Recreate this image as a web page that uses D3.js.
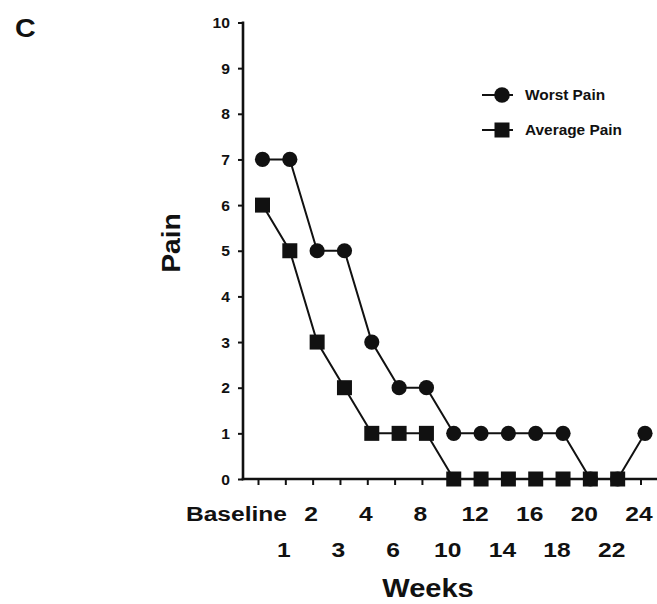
<!DOCTYPE html>
<html>
<head>
<meta charset="utf-8">
<script src="https://cdn.jsdelivr.net/npm/d3@7"></script>
<style>
  html, body { margin: 0; padding: 0; background: #fff; }
  text { font-family: "Liberation Sans", Arial, Helvetica, sans-serif; font-weight: bold; fill: #111; }
</style>
</head>
<body>
<svg id="chart" width="657" height="604"></svg>
<script>
// ---- data ----
const weeks = ["Baseline", "1", "2", "3", "4", "6", "8", "10", "12", "14", "16", "18", "20", "22", "24"];
const worstPain = [7, 7, 5, 5, 3, 2, 2, 1, 1, 1, 1, 1, 0, 0, 1];
const averagePain = [6, 5, 3, 2, 1, 1, 1, 0, 0, 0, 0, 0, 0, 0, null];
const yTicks = [0, 1, 2, 3, 4, 5, 6, 7, 8, 9, 10];
const seriesNames = ["Worst Pain", "Average Pain"];

const svg = d3.select("#chart");
const ink = "#111";

const x = d3.scalePoint().domain(weeks).range([262.5, 645]);
const y = d3.scaleLinear().domain([0, 10]).range([479, 22.5]);

// panel letter
svg.append("text").attr("transform", "translate(15,37) scale(1.1,1)")
  .style("font-size", "26px").text("C");

// ---- y axis ----
const yAxis = svg.append("g").attr("transform", "translate(243,0)")
  .call(d3.axisLeft(y).tickValues(yTicks).tickSize(5).tickFormat(d3.format("d")));
yAxis.select(".domain").remove();
yAxis.selectAll(".tick line").attr("stroke", ink).attr("stroke-width", 2);
yAxis.selectAll(".tick text")
  .attr("x", null).attr("dy", null)
  .attr("transform", "translate(-13,5) scale(1.12,1)")
  .style("font-size", "14px").style("font-family", null).attr("fill", ink);
svg.append("line").attr("x1", 243).attr("x2", 243)
  .attr("y1", y(10) - 1).attr("y2", y(0) + 1.2)
  .attr("stroke", ink).attr("stroke-width", 2.6);

// ---- x axis ----
svg.append("line").attr("x1", 241.7).attr("x2", 657)
  .attr("y1", y(0)).attr("y2", y(0))
  .attr("stroke", ink).attr("stroke-width", 2.6);
const xg = svg.append("g");
xg.selectAll("line.xt").data(weeks).join("line").attr("class", "xt")
  .attr("x1", d => x(d) - 4).attr("x2", d => x(d) - 4)
  .attr("y1", y(0)).attr("y2", y(0) + 6)
  .attr("stroke", ink).attr("stroke-width", 2);
xg.selectAll("text.xl").data(weeks).join("text").attr("class", "xl")
  .attr("text-anchor", (d, i) => i === 0 ? "end" : "middle")
  .attr("transform", (d, i) => {
    const tx = i === 0 ? x(d) + 24.5 : x(d) - 6;
    const ty = i % 2 === 0 ? 520.5 : 556.5;
    return `translate(${tx},${ty}) scale(1.2,1)`;
  })
  .style("font-size", "20.5px")
  .text(d => d);

// axis titles
svg.append("text").attr("text-anchor", "middle")
  .attr("transform", "translate(428,596.5) scale(1.14,1)")
  .style("font-size", "25.5px").text("Weeks");
svg.append("text").attr("text-anchor", "middle")
  .attr("transform", "translate(180,243) rotate(-90) scale(1.11,1)")
  .style("font-size", "25.5px").text("Pain");

// ---- series ----
const line = d3.line()
  .defined(d => d.v !== null)
  .x(d => x(d.w)).y(d => y(d.v));
const worstData = weeks.map((w, i) => ({ w, v: worstPain[i] }));
const avgData = weeks.map((w, i) => ({ w, v: averagePain[i] }));

svg.append("path").datum(worstData).attr("d", line)
  .attr("fill", "none").attr("stroke", ink).attr("stroke-width", 2);
svg.append("path").datum(avgData).attr("d", line)
  .attr("fill", "none").attr("stroke", ink).attr("stroke-width", 2);

svg.selectAll("circle.worst").data(worstData.filter(d => d.v !== null)).join("circle")
  .attr("class", "worst")
  .attr("cx", d => x(d.w)).attr("cy", d => y(d.v)).attr("r", 7.6)
  .attr("fill", ink);
const sq = 15;
svg.selectAll("rect.avg").data(avgData.filter(d => d.v !== null)).join("rect")
  .attr("class", "avg")
  .attr("x", d => x(d.w) - sq / 2).attr("y", d => y(d.v) - sq / 2)
  .attr("width", sq).attr("height", sq).attr("fill", ink);

// ---- legend ----
const lg = svg.append("g");
const legendY = [95, 130];
seriesNames.forEach((name, i) => {
  const ly = legendY[i];
  lg.append("line").attr("x1", 482).attr("x2", 513).attr("y1", ly).attr("y2", ly)
    .attr("stroke", ink).attr("stroke-width", 2);
  if (i === 0) {
    lg.append("circle").attr("cx", 502).attr("cy", ly).attr("r", 7.8).attr("fill", ink);
  } else {
    lg.append("rect").attr("x", 502 - 7.5).attr("y", ly - 7.5).attr("width", 15).attr("height", 15).attr("fill", ink);
  }
  lg.append("text").attr("transform", `translate(525,${ly + 5}) scale(1.1,1)`)
    .style("font-size", "14px").text(name);
});
</script>
</body>
</html>
